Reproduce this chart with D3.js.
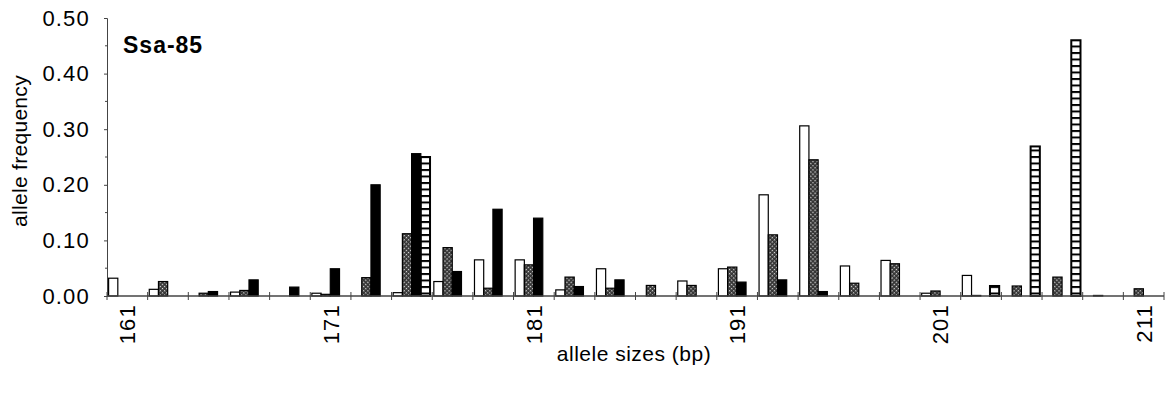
<!DOCTYPE html>
<html>
<head>
<meta charset="utf-8">
<script src="https://cdn.jsdelivr.net/npm/d3@7"></script>
<style>
  body { margin: 0; background: #fff; }
  text { font-family: "Liberation Sans", Arial, Helvetica, sans-serif; fill: #000; }
</style>
</head>
<body>
<div id="chart"></div>
<script>
// allele sizes (bp), every 2 bp
const alleles = [161, 163, 165, 167, 169, 171, 173, 175, 177, 179, 181, 183, 185,
                 187, 189, 191, 193, 195, 197, 199, 201, 203, 205, 207, 209, 211];
const tickLabels = [161, 171, 181, 191, 201, 211];
const seriesNames = ["open", "hatched", "solid", "striped"];

// frequencies
const openFreq    = [0.032, 0.012, 0, 0.007, 0, 0.005, 0, 0.006, 0.026, 0.065, 0.065, 0.011, 0.049,
                     0, 0.027, 0.049, 0.182, 0.306, 0.054, 0.064, 0.005, 0.037, 0, 0, 0, 0];
const hatchedFreq = [0, 0.026, 0.005, 0.010, 0, 0.003, 0.033, 0.112, 0.087, 0.014, 0.056, 0.034, 0.014,
                     0.019, 0.019, 0.052, 0.110, 0.245, 0.023, 0.058, 0.009, 0.001, 0.018, 0.034, 0.001, 0.013];
const solidFreq   = [0, 0, 0.008, 0.029, 0.016, 0.049, 0.200, 0.256, 0.044, 0.156, 0.140, 0.017, 0.029,
                     0, 0, 0.025, 0.029, 0.008, 0, 0, 0, 0, 0, 0, 0, 0];
const stripedFreq = [0, 0, 0, 0, 0, 0, 0, 0.250, 0, 0, 0, 0, 0,
                     0, 0, 0, 0, 0, 0, 0, 0, 0.018, 0.269, 0.460, 0, 0];

const yTicks = [0, 0.1, 0.2, 0.3, 0.4, 0.5];

const width = 1167, height = 393;
const margin = {top: 18, right: 3, bottom: 97, left: 107};

const svg = d3.select("#chart").append("svg")
    .attr("width", width)
    .attr("height", height);

// fill patterns
const defs = svg.append("defs");
const hatch = defs.append("pattern")
    .attr("id", "hatch")
    .attr("patternUnits", "userSpaceOnUse")
    .attr("width", 3).attr("height", 3)
    .attr("patternTransform", "rotate(45)");
hatch.append("rect").attr("width", 3).attr("height", 3).attr("fill", "#333");
hatch.append("rect").attr("x", 1).attr("y", 1).attr("width", 1.3).attr("height", 1.3).attr("fill", "#e0e0e0");

const stripe = defs.append("pattern")
    .attr("id", "stripe")
    .attr("patternUnits", "userSpaceOnUse")
    .attr("width", 20).attr("height", 6.5);
stripe.append("rect").attr("width", 20).attr("height", 6.5).attr("fill", "#fff");
stripe.append("rect").attr("y", 0).attr("width", 20).attr("height", 2).attr("fill", "#000");

const fills = {open: "#fff", hatched: "url(#hatch)", solid: "#000", striped: "url(#stripe)"};

const x = d3.scaleBand()
    .domain(alleles)
    .range([margin.left, width - margin.right])
    .paddingInner(0).paddingOuter(0);

const xs = d3.scaleBand()
    .domain(seriesNames)
    .range([1.6, x.bandwidth() - 2.2]);

const y = d3.scaleLinear()
    .domain([0, 0.5])
    .range([height - margin.bottom, margin.top]);

const table = alleles.map((a, i) => ({
    allele: a,
    values: [
        {key: "open", v: openFreq[i]},
        {key: "hatched", v: hatchedFreq[i]},
        {key: "solid", v: solidFreq[i]},
        {key: "striped", v: stripedFreq[i]}
    ]
}));

// bars
const groups = svg.append("g").selectAll("g")
    .data(table)
    .join("g")
    .attr("transform", d => `translate(${x(d.allele)},0)`);

groups.selectAll("rect")
    .data(d => d.values.filter(e => e.v > 0))
    .join("rect")
    .attr("x", d => xs(d.key))
    .attr("y", d => y(d.v))
    .attr("width", xs.bandwidth())
    .attr("height", d => y(0) - y(d.v))
    .attr("fill", d => fills[d.key])
    .attr("stroke", "#000")
    .attr("stroke-width", d => d.key == "striped" ? 2 : 1.2);

// y axis
const yAxis = svg.append("g")
    .attr("transform", `translate(${margin.left},0)`)
    .call(d3.axisLeft(y).tickValues(yTicks).tickFormat(d3.format(".2f")).tickSize(3).tickPadding(14));
yAxis.select(".domain").attr("stroke", "#444");
yAxis.selectAll(".tick line").attr("stroke", "#444");
yAxis.selectAll("text").style("font-size", "22px").style("letter-spacing", "1.2px");

// minor y ticks
svg.append("g").selectAll("line")
    .data(d3.range(0.05, 0.5, 0.1))
    .join("line")
    .attr("x1", margin.left - 2).attr("x2", margin.left)
    .attr("y1", d => y(d)).attr("y2", d => y(d))
    .attr("stroke", "#444");

// x axis line and band ticks
const x0 = y(0);
svg.append("line")
    .attr("x1", margin.left).attr("x2", width - margin.right)
    .attr("y1", x0).attr("y2", x0)
    .attr("stroke", "#444").attr("stroke-width", 1.3);

svg.append("g").selectAll("line")
    .data(alleles.concat(["end"]))
    .join("line")
    .attr("x1", d => d == "end" ? width - margin.right : x(d))
    .attr("x2", d => d == "end" ? width - margin.right : x(d))
    .attr("y1", x0 - 4).attr("y2", x0 + 4)
    .attr("stroke", "#444");

// x tick labels, rotated
svg.append("g").selectAll("text")
    .data(tickLabels)
    .join("text")
    .attr("transform", d => `translate(${x(d) + x.bandwidth() / 2 + 8},${x0 + 8}) rotate(-90)`)
    .attr("text-anchor", "end")
    .style("font-size", "22px")
    .style("letter-spacing", "1.2px")
    .text(d => d);

// axis titles
svg.append("text")
    .attr("x", 634).attr("y", 361)
    .attr("text-anchor", "middle")
    .style("font-size", "21px")
    .style("letter-spacing", "0.5px")
    .text("allele sizes (bp)");

svg.append("text")
    .attr("transform", `translate(27,151) rotate(-90)`)
    .attr("text-anchor", "middle")
    .style("font-size", "21px")
    .style("letter-spacing", "0.3px")
    .text("allele frequency");

// panel title
svg.append("text")
    .attr("x", 123).attr("y", 53)
    .style("font-size", "23px")
    .style("font-weight", "bold")
    .style("letter-spacing", "1px")
    .text("Ssa-85");
</script>
</body>
</html>
